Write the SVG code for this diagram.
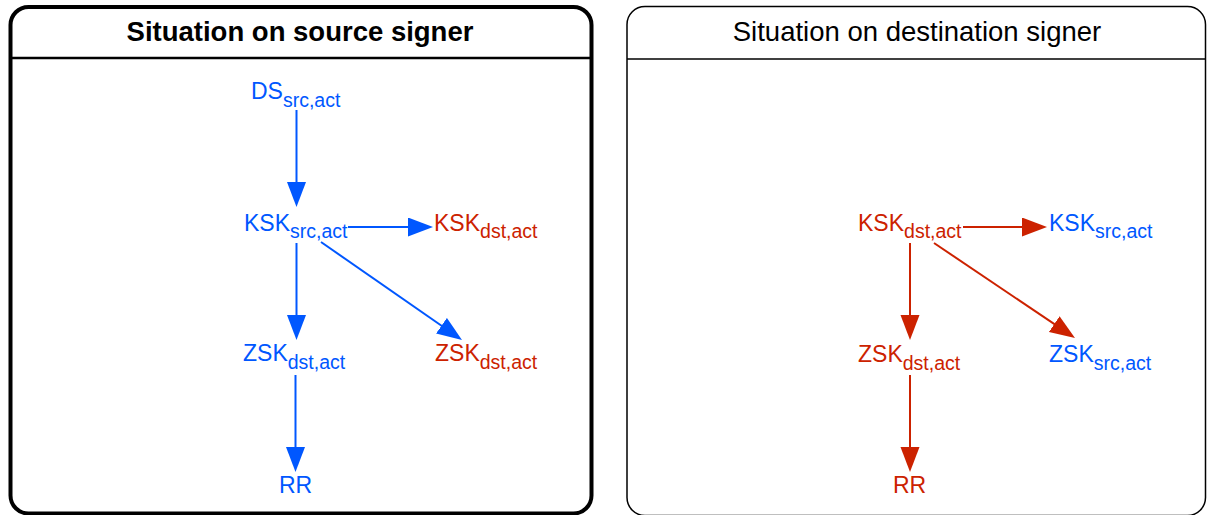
<svg xmlns="http://www.w3.org/2000/svg" width="1207" height="515" viewBox="0 0 1207 515">
  <style>
    .title { font-family: "Liberation Sans", Arial, sans-serif; font-size: 27.5px; fill: #000; text-anchor: middle; }
    .bold { font-weight: bold; }
    .lbl { font-family: "Liberation Sans", Arial, sans-serif; font-size: 23px; }
    .sub { font-size: 19.5px; }
    .blue { fill: #0057ff; }
    .red { fill: #cc2200; }
    .eb { stroke: #0057ff; stroke-width: 2; fill: none; marker-end: url(#ahBlue); }
    .er { stroke: #cc2200; stroke-width: 2; fill: none; marker-end: url(#ahRed); }
  </style>
  <defs>
    <marker id="ahBlue" markerUnits="userSpaceOnUse" markerWidth="26" markerHeight="20" refX="15" refY="9.5" orient="auto">
      <path d="M0,0 L25,9.5 L0,19 z" fill="#0057ff"/>
    </marker>
    <marker id="ahRed" markerUnits="userSpaceOnUse" markerWidth="26" markerHeight="20" refX="15" refY="9.5" orient="auto">
      <path d="M0,0 L25,9.5 L0,19 z" fill="#cc2200"/>
    </marker>
  </defs>

  <!-- source signer panel -->
  <g id="panel-source">
    <rect x="10.5" y="7" width="581" height="506.5" rx="18" ry="18" fill="#fff" stroke="#000" stroke-width="4"/>
    <line x1="10.5" y1="58" x2="591.5" y2="58" stroke="#000" stroke-width="2.5"/>
    <text class="title bold" x="300" y="41">Situation on source signer</text>
  </g>

  <!-- destination signer panel -->
  <g id="panel-destination">
    <rect x="627" y="6.5" width="578.5" height="509" rx="18" ry="18" fill="#fff" stroke="#000" stroke-width="1.5"/>
    <line x1="627" y1="59" x2="1205.5" y2="59" stroke="#000" stroke-width="1.5"/>
    <text class="title" x="917" y="41">Situation on destination signer</text>
  </g>

  <!-- connectors -->
  <g id="connectors">
    <line class="eb" x1="296.5" y1="110" x2="296.5" y2="197"/>
    <line class="eb" x1="348" y1="227" x2="423" y2="227"/>
    <line class="eb" x1="296.5" y1="243" x2="296.5" y2="330"/>
    <line class="eb" x1="321" y1="242" x2="453.8" y2="334.3"/>
    <line class="eb" x1="295.5" y1="375" x2="295.5" y2="462"/>

    <line class="er" x1="963" y1="227" x2="1037" y2="227"/>
    <line class="er" x1="910" y1="243" x2="910" y2="330"/>
    <line class="er" x1="934" y1="243" x2="1066.7" y2="332.4"/>
    <line class="er" x1="910" y1="375" x2="910" y2="462"/>
  </g>

  <!-- source signer nodes -->
  <g id="src-ds-src">
    <text class="lbl blue" x="251" y="99">DS<tspan class="sub" dy="7.5">src,act</tspan></text>
  </g>
  <g id="src-ksk-src">
    <text class="lbl blue" x="244" y="230.5">KSK<tspan class="sub" dy="7.5">src,act</tspan></text>
  </g>
  <g id="src-ksk-dst">
    <text class="lbl red" x="434" y="230.5">KSK<tspan class="sub" dy="7.5">dst,act</tspan></text>
  </g>
  <g id="src-zsk-dst-blue">
    <text class="lbl blue" x="243" y="361">ZSK<tspan class="sub" dy="7.5">dst,act</tspan></text>
  </g>
  <g id="src-zsk-dst-red">
    <text class="lbl red" x="435" y="361">ZSK<tspan class="sub" dy="7.5">dst,act</tspan></text>
  </g>
  <g id="src-rr">
    <text class="lbl blue" x="279" y="493">RR</text>
  </g>

  <!-- destination signer nodes -->
  <g id="dst-ksk-dst">
    <text class="lbl red" x="858" y="230.5">KSK<tspan class="sub" dy="7.5">dst,act</tspan></text>
  </g>
  <g id="dst-ksk-src">
    <text class="lbl blue" x="1049" y="230.5">KSK<tspan class="sub" dy="7.5">src,act</tspan></text>
  </g>
  <g id="dst-zsk-dst">
    <text class="lbl red" x="858" y="362">ZSK<tspan class="sub" dy="7.5">dst,act</tspan></text>
  </g>
  <g id="dst-zsk-src">
    <text class="lbl blue" x="1049" y="362">ZSK<tspan class="sub" dy="7.5">src,act</tspan></text>
  </g>
  <g id="dst-rr">
    <text class="lbl red" x="893" y="493">RR</text>
  </g>
</svg>
